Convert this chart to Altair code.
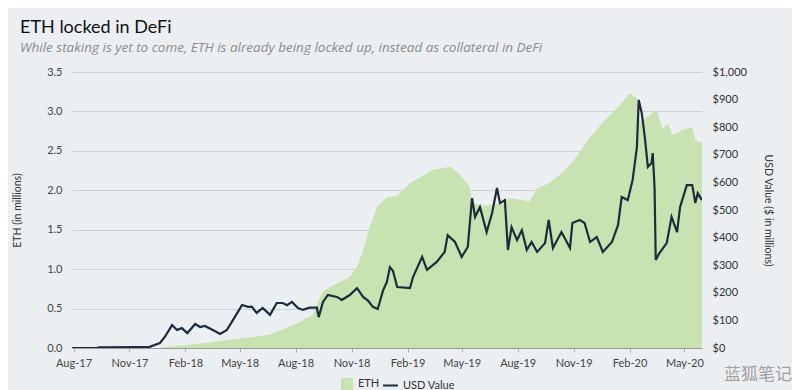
import altair as alt
import pandas as pd

# ---------------- data ----------------
eth_dates = [
    "2017-07-29", "2017-12-21", "2018-01-06", "2018-03-02", "2018-05-01",
    "2018-06-20", "2018-08-03", "2018-08-29", "2018-09-07", "2018-09-15",
    "2018-09-26", "2018-10-29", "2018-11-10", "2018-11-20", "2018-12-01",
    "2018-12-13", "2018-12-29", "2019-01-15", "2019-02-05", "2019-03-15",
    "2019-04-12", "2019-04-28", "2019-05-14", "2019-05-18", "2019-05-31",
    "2019-06-16", "2019-07-03", "2019-07-19", "2019-08-21", "2019-09-02",
    "2019-09-23", "2019-10-09", "2019-10-30", "2019-11-28", "2019-12-26",
    "2020-01-16", "2020-02-01", "2020-02-13", "2020-02-18", "2020-02-29",
    "2020-03-16", "2020-03-26", "2020-04-04", "2020-04-12", "2020-04-29",
    "2020-05-14", "2020-05-19", "2020-05-26", "2020-05-30",
]
eth_values = [
    0.0, 0.0, 0.02, 0.06, 0.12,
    0.17, 0.31, 0.42, 0.60, 0.72,
    0.77, 0.90, 1.03, 1.24, 1.53,
    1.79, 1.91, 1.93, 2.09, 2.26,
    2.30, 2.20, 2.05, 1.85, 1.80,
    1.81, 1.84, 1.90, 1.86, 2.02,
    2.10, 2.19, 2.36, 2.67, 2.92,
    3.08, 3.23, 3.17, 2.87, 2.92,
    3.02, 2.78, 2.85, 2.70, 2.77,
    2.80, 2.64, 2.61, 2.62,
]

usd_dates = [
    "2017-07-29", "2017-09-08", "2017-09-12", "2017-11-18", "2017-12-04",
    "2017-12-21", "2017-12-29", "2018-01-10", "2018-01-18", "2018-01-26",
    "2018-02-04", "2018-02-17", "2018-02-25", "2018-03-05", "2018-03-18",
    "2018-03-30", "2018-04-10", "2018-04-20", "2018-04-28", "2018-05-05",
    "2018-05-15", "2018-05-21", "2018-05-29", "2018-06-08", "2018-06-20",
    "2018-07-01", "2018-07-11", "2018-07-18", "2018-07-26", "2018-08-05",
    "2018-08-13", "2018-08-24", "2018-09-05", "2018-09-08", "2018-09-15",
    "2018-09-23", "2018-10-08", "2018-10-16", "2018-10-29", "2018-11-10",
    "2018-11-20", "2018-11-28", "2018-12-06", "2018-12-14", "2018-12-23",
    "2018-12-29", "2019-01-03", "2019-01-08", "2019-01-15", "2019-02-05",
    "2019-02-10", "2019-02-25", "2019-03-05", "2019-03-21", "2019-04-03",
    "2019-04-08", "2019-04-20", "2019-05-01", "2019-05-11", "2019-05-18",
    "2019-05-23", "2019-05-31", "2019-06-11", "2019-06-20", "2019-06-28",
    "2019-07-03", "2019-07-11", "2019-07-16", "2019-07-22", "2019-07-31",
    "2019-08-08", "2019-08-16", "2019-08-24", "2019-09-02", "2019-09-15",
    "2019-09-21", "2019-09-28", "2019-10-12", "2019-10-26", "2019-10-30",
    "2019-11-11", "2019-11-19", "2019-11-28", "2019-12-09", "2019-12-19",
    "2020-01-03", "2020-01-13", "2020-01-19", "2020-01-29", "2020-02-06",
    "2020-02-13", "2020-02-16", "2020-02-21", "2020-02-26", "2020-03-02",
    "2020-03-08", "2020-03-10", "2020-03-13", "2020-03-15", "2020-03-21",
    "2020-04-02", "2020-04-10", "2020-04-19", "2020-04-24", "2020-05-05",
    "2020-05-14", "2020-05-19", "2020-05-23", "2020-05-30",
]
usd_values = [
    0, 0, 2, 3, 4,
    18, 40, 83, 65, 72,
    54, 87, 76, 80, 65,
    51, 65, 101, 130, 156,
    149, 150, 127, 145, 120,
    163, 163, 155, 167, 145,
    138, 146, 146, 112, 167,
    192, 185, 174, 192, 217,
    185, 172, 149, 141, 210,
    239, 293, 280, 221, 217,
    257, 330, 283, 312, 348,
    409, 384, 330, 366, 543,
    475, 511, 420, 489, 580,
    525, 536, 355, 438, 391,
    427, 355, 384, 348, 380,
    464, 362, 420, 362, 453,
    464, 453, 384, 402, 348,
    384, 446, 547, 536, 609,
    728, 899, 851, 764, 656,
    670, 706, 583, 319, 344,
    380, 475, 420, 511, 590,
    590, 525, 561, 536,
]

x_tick_dates = [
    "2017-08", "2017-11", "2018-02", "2018-05", "2018-08", "2018-11",
    "2019-02", "2019-05", "2019-08", "2019-11", "2020-02", "2020-05",
]
left_ticks = [0, 0.5, 1.0, 1.5, 2.0, 2.5, 3.0, 3.5]
right_ticks = [0, 100, 200, 300, 400, 500, 600, 700, 800, 900, 1000]

title_text = "ETH locked in DeFi"
subtitle_text = "While staking is yet to come, ETH is already being locked up, instead as collateral in DeFi"
watermark_text = "蓝狐笔记"

# ---------------- build ----------------
FONT = "Lato"
eth_df = pd.DataFrame({"date": eth_dates, "eth": eth_values, "series": "ETH"})
usd_df = pd.DataFrame({"date": usd_dates, "usd": usd_values, "series": "USD Value"})
wm_df = pd.DataFrame({"t": [watermark_text]})

x_vals = [alt.DateTime(year=int(s[:4]), month=int(s[5:7]), date=1) for s in x_tick_dates]
x_enc = alt.X(
    "date:T",
    scale=alt.Scale(domain=[alt.DateTime(year=2017, month=7, date=29, hours=12),
                            alt.DateTime(year=2020, month=5, date=30)]),
    axis=alt.Axis(values=x_vals, format="%b-%y", title=None, grid=False,
                  labelFont=FONT, labelFontSize=11, labelColor="#444",
                  tickSize=4, tickColor="#b0b0b0", domainColor="#9a9a9a",
                  labelPadding=5, labelFlush=False),
)

area = alt.Chart(eth_df).mark_area(color="#c8e3b1", clip=True).encode(
    x=x_enc,
    y=alt.Y("eth:Q", scale=alt.Scale(domain=[0, 3.5]),
            axis=alt.Axis(orient="left", values=left_ticks, format=".1f",
                          title="ETH (in millions)", grid=True, gridColor="#cfd2d6",
                          domain=False, ticks=False, labelPadding=10,
                          labelFont=FONT, labelFontSize=11, labelColor="#444",
                          titleFont=FONT, titleFontSize=10.5, titleFontWeight="normal",
                          titleColor="#333", titleX=-50, titleY=138)),
    fill=alt.Fill("series:N", scale=alt.Scale(domain=["ETH"], range=["#c8e3b1"]),
                  legend=alt.Legend(orient="none", legendX=268, legendY=305, title=None,
                                    symbolType="square", symbolSize=150,
                                    labelFont=FONT, labelFontSize=11, labelColor="#333")),
)

line = alt.Chart(usd_df).mark_line(strokeWidth=2.2, clip=True).encode(
    x=x_enc,
    y=alt.Y("usd:Q", scale=alt.Scale(domain=[0, 1000]),
            axis=alt.Axis(orient="right", values=right_ticks, format="$,.0f",
                          title="USD Value ($ in millions)", grid=False,
                          domain=False, ticks=False, labelPadding=10,
                          labelFont=FONT, labelFontSize=11, labelColor="#333",
                          titleFont=FONT, titleFontSize=10.5, titleFontWeight="normal",
                          titleColor="#333", titleX=60, titleY=138)),
    stroke=alt.Stroke("series:N", scale=alt.Scale(domain=["USD Value"], range=["#1e2b3c"]),
                      legend=alt.Legend(orient="none", legendX=310, legendY=305, title=None,
                                        symbolType="stroke", symbolSize=220,
                                        symbolStrokeWidth=2,
                                        labelFont=FONT, labelFontSize=11, labelColor="#333")),
)

wm = alt.Chart(wm_df).mark_text(align="left", baseline="alphabetic",
                                font="Noto Sans CJK SC", fontSize=17,
                                color="#a0a0a0").encode(
    x=alt.value(652), y=alt.value(308), text="t:N")

chart = alt.layer(area, line, wm).resolve_scale(
    y="independent"
).properties(
    width=630, height=276,
    padding={"left": 64, "top": 64, "right": 90, "bottom": 50},
    autosize=alt.AutoSizeParams(type="none"),
    title=alt.TitleParams(title_text, subtitle=subtitle_text, anchor="start",
                          frame="group", dx=-52, offset=12, font=FONT, fontSize=18,
                          fontWeight="normal", color="#111",
                          subtitleFont="Open Sans", subtitleFontSize=13.5,
                          subtitleFontStyle="italic", subtitleColor="#8c8c8c",
                          subtitlePadding=4),
).configure(background="#eceff2").configure_view(stroke="transparent")

chart.save("out.html", embed_options={"renderer": "svg", "actions": False})
